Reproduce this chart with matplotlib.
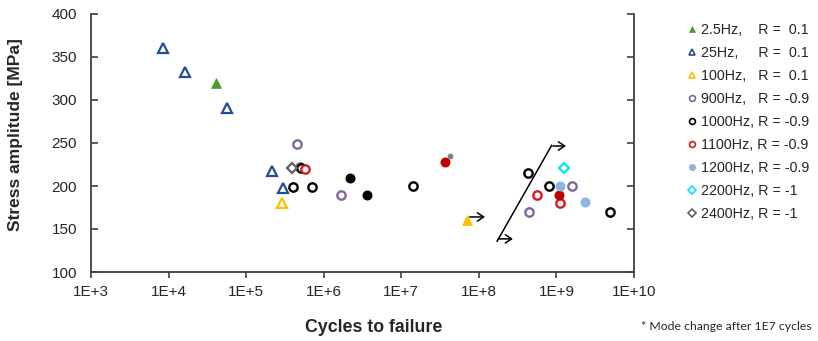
import matplotlib
matplotlib.use("Agg")
import matplotlib.pyplot as plt
from matplotlib.lines import Line2D
from matplotlib.ticker import NullLocator

plt.rcParams['font.family'] = ['Liberation Sans', 'DejaVu Sans']

# ---------------- data ----------------
n_2p5 = [4.1e4]
s_2p5 = [320]

n_25 = [8.4e3, 1.63e4, 5.6e4, 2.13e5, 2.96e5]
s_25 = [360, 333, 291, 218, 198]

n_100_open = [2.93e5]
s_100_open = [180]
n_100_fill = [7.1e7]
s_100_fill = [160]

n_900 = [4.57e5, 5.0e5, 1.69e6, 4.43e8, 1.6e9]
s_900 = [249, 222, 189.5, 170, 200]

n_1000_open = [4.06e5, 7.1e5, 5.05e5, 1.43e7, 4.34e8, 8.1e8, 4.86e9]
s_1000_open = [199, 199, 221, 200, 215, 200, 170]
n_1000_fill = [2.18e6, 3.61e6]
s_1000_fill = [209, 189.5]

n_1100_open = [5.74e5, 5.56e8, 1.11e9]
s_1100_open = [220, 189.5, 180]
n_1100_fill = [3.66e7, 1.08e9]
s_1100_fill = [227.5, 190]

n_1200 = [1.11e9, 2.31e9]
s_1200 = [200, 181]

n_2200 = [1.25e9]
s_2200 = [221]

n_2400 = [3.94e5]
s_2400 = [221]

n_star = [4.25e7]
s_star = [235]

# runout / mode-change annotations
runout_start_n = [7.6e7, 1.77e8, 9.0e8]
runout_end_n = [1.2e8, 2.75e8, 1.33e9]
runout_s = [164, 138.5, 246.5]
slant_n = [1.70e8, 8.77e8]
slant_s = [135, 248]

xtick_vals = [1e3, 1e4, 1e5, 1e6, 1e7, 1e8, 1e9, 1e10]
xtick_labels = ['1E+3', '1E+4', '1E+5', '1E+6', '1E+7', '1E+8', '1E+9', '1E+10']
ytick_vals = [100, 150, 200, 250, 300, 350, 400]

legend_labels = ['2.5Hz,    R =  0.1',
                 '25Hz,     R =  0.1',
                 '100Hz,   R =  0.1',
                 '900Hz,   R = -0.9',
                 '1000Hz, R = -0.9',
                 '1100Hz, R = -0.9',
                 '1200Hz, R = -0.9',
                 '2200Hz, R = -1',
                 '2400Hz, R = -1']

# ---------------- colours ----------------
c_green = '#4E9A2A'
c_blue = '#1F4E9A'
c_yellow = '#FFC000'
c_purple = '#8064A2'
c_black = '#000000'
c_red = '#D81820'
c_redfill = '#C00000'
c_lblue = '#8DB3E2'
c_cyan = '#00E5FF'
c_gray = '#606060'

W, H = 818, 341
fig = plt.figure(figsize=(W / 100, H / 100), dpi=100)
ax = fig.add_axes([91 / W, (H - 272) / H, (634 - 91) / W, (272 - 14) / H])

tri = dict(marker='^', ms=7.5, mew=1.6, ls='none')
circ = dict(marker='o', ms=6.0, mew=1.7, ls='none')
fcirc = dict(marker='o', ms=7.2, mew=0, ls='none')
dia = dict(marker='D', ms=5.2, mew=1.6, ls='none')

ax.plot(n_2p5, s_2p5, color=c_green, mfc=c_green, mec=c_green, **{**tri, 'mew': 0.5})
ax.plot(n_25, s_25, mfc='white', mec=c_blue, **tri)
ax.plot(n_100_open, s_100_open, mfc='white', mec=c_yellow, **tri)
ax.plot(n_100_fill, s_100_fill, mfc=c_yellow, mec=c_yellow, **{**tri, 'mew': 0.5})
ax.plot(n_900, s_900, mfc='white', mec=c_purple, **circ)
ax.plot(n_1000_open, s_1000_open, mfc='white', mec=c_black, **circ)
ax.plot(n_1000_fill, s_1000_fill, mfc=c_black, **fcirc)
ax.plot(n_1100_open, s_1100_open, mfc='white', mec=c_red, **circ)
ax.plot(n_1100_fill, s_1100_fill, mfc=c_redfill, **fcirc)
ax.plot(n_1200, s_1200, mfc=c_lblue, **fcirc)
ax.plot(n_2200, s_2200, mfc='white', mec=c_cyan, **dia)
ax.plot(n_2400, s_2400, mfc='white', mec=c_gray, **dia)
ax.plot(n_star, s_star, marker='o', ms=3.2, mfc='#7F7F7F', mec='#7F7F7F', ls='none')

ax.plot(slant_n, slant_s, color='black', lw=1.1, solid_capstyle='butt')
for n0, n1, s in zip(runout_start_n, runout_end_n, runout_s):
    ax.annotate('', xy=(n1, s), xytext=(n0, s),
                arrowprops=dict(arrowstyle='->,head_length=0.45,head_width=0.3',
                                color='black', lw=1.1, shrinkA=0, shrinkB=0))

ax.set_xscale('log')
ax.set_xlim(1e3, 1e10)
ax.set_ylim(100, 400)
ax.set_xticks(xtick_vals)
ax.set_xticklabels(xtick_labels)
ax.xaxis.set_minor_locator(NullLocator())
ax.set_yticks(ytick_vals)

spine_c = '#404040'
for side in ['left', 'right', 'bottom']:
    ax.spines[side].set_color(spine_c)
    ax.spines[side].set_linewidth(1.3)
ax.spines['top'].set_visible(False)

ax.tick_params(axis='y', direction='in', left=True, right=True, length=5,
               width=1.2, color=spine_c, pad=10, labelsize=11, labelcolor='#262626')
ax.tick_params(axis='x', direction='out', length=4, width=1.2, color=spine_c,
               pad=5, labelsize=11, labelcolor='#262626')

fig.text(374 / W, 1 - 327 / H, 'Cycles to failure', ha='center', va='center',
         fontsize=12.8, fontweight='bold', color='#262626')
fig.text(16 / W, 1 - 135 / H, 'Stress amplitude [MPa]', ha='center', va='center',
         rotation=90, fontsize=12.5, fontweight='bold', color='#262626')
fig.text(812 / W, 1 - 327 / H, '* Mode change after 1E7 cycles', ha='right', va='center',
         fontsize=8.8, color='#262626', family=['Lato', 'DejaVu Sans'])

lms = 5.0
handles = [
    Line2D([], [], marker='^', ms=lms, mfc=c_green, mec=c_green, mew=0.5, ls='none'),
    Line2D([], [], marker='^', ms=lms, mfc='white', mec=c_blue, mew=1.2, ls='none'),
    Line2D([], [], marker='^', ms=lms, mfc='white', mec=c_yellow, mew=1.2, ls='none'),
    Line2D([], [], marker='o', ms=4.2, mfc='white', mec=c_purple, mew=1.2, ls='none'),
    Line2D([], [], marker='o', ms=4.2, mfc='white', mec=c_black, mew=1.2, ls='none'),
    Line2D([], [], marker='o', ms=4.2, mfc='white', mec=c_red, mew=1.2, ls='none'),
    Line2D([], [], marker='o', ms=5.0, mfc=c_lblue, mec=c_lblue, mew=0, ls='none'),
    Line2D([], [], marker='D', ms=3.6, mfc='white', mec=c_cyan, mew=1.2, ls='none'),
    Line2D([], [], marker='D', ms=3.6, mfc='white', mec=c_gray, mew=1.2, ls='none'),
]
fig.legend(handles, legend_labels, loc='upper left',
           bbox_to_anchor=(688 / W, 1 - 23 / H), frameon=False,
           fontsize=10.3, handlelength=0.6, handletextpad=0.3,
           labelspacing=0.63, borderaxespad=0, borderpad=0, labelcolor='#262626')

fig.savefig('out.png', dpi=100)
